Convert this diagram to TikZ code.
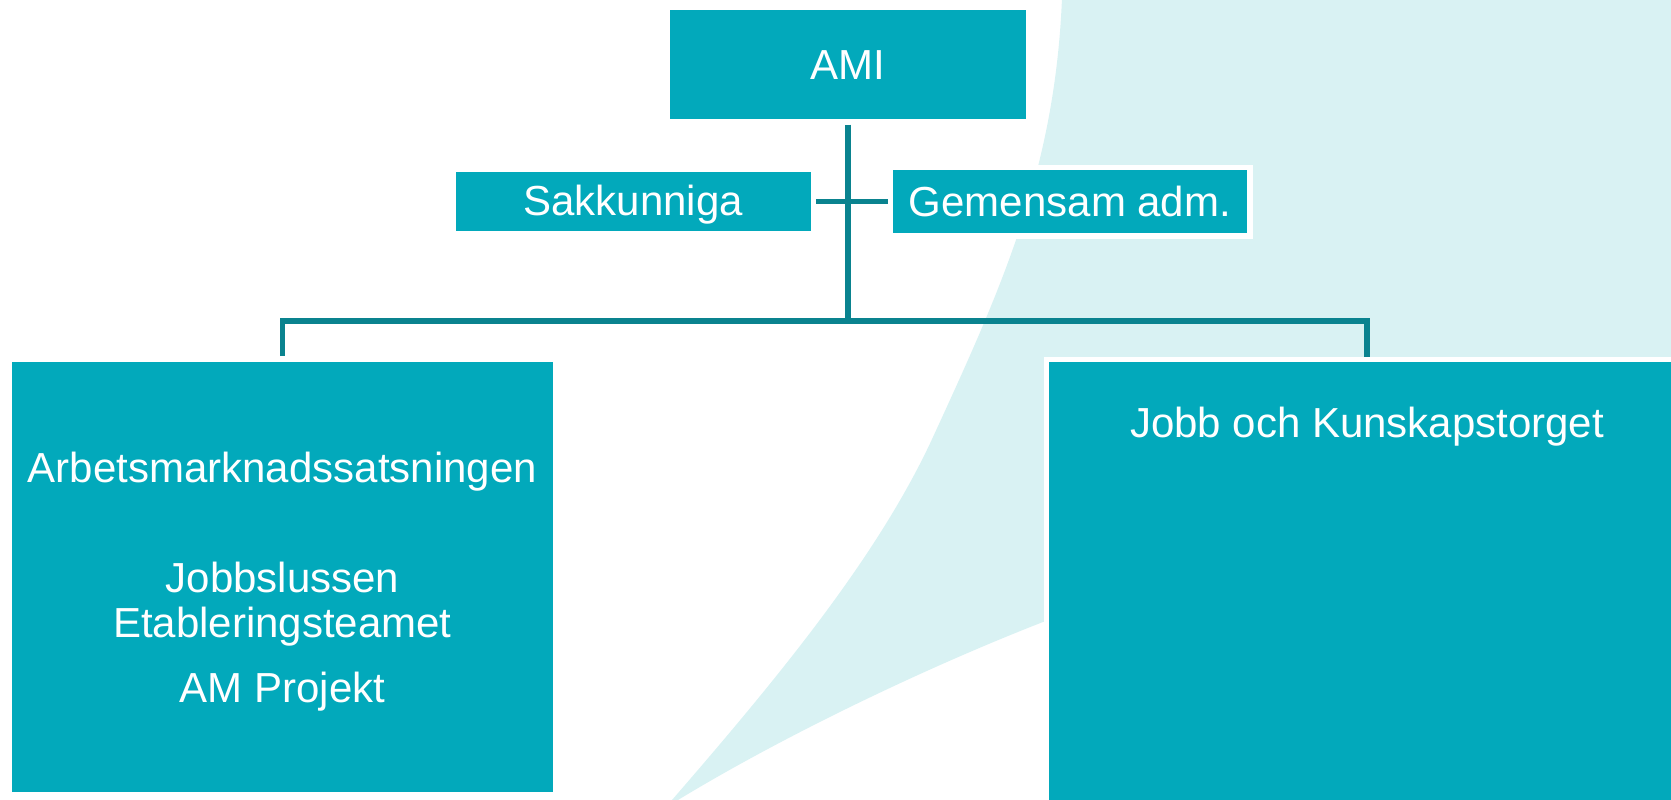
\documentclass[tikz,border=0pt]{standalone}
\usepackage{fontspec}
\setmainfont{Liberation Sans}
\definecolor{boxteal}{RGB}{2,169,187}
\definecolor{lineteal}{RGB}{10,131,143}
\definecolor{pale}{RGB}{217,242,243}
\begin{document}
\begin{tikzpicture}[x=1pt,y=-1pt,
  orgbox/.style={rectangle, fill=boxteal, draw=white, line width=5.5pt, inner sep=0pt},
  conn/.style={draw=lineteal, line width=5.5pt},
  lbl/.style={text=white, font=\fontsize{42}{50}\selectfont, anchor=base, inner sep=0pt}]
\useasboundingbox (0,0) rectangle (1671,800);
% pale background swoosh
\fill[pale] (1062,-2) .. controls (1055,170) and (1002,287) .. (933,437)
  .. controls (878,557) and (776,680) .. (672,800)
  -- (678,800) .. controls (780,738) and (920,670) .. (1043,622)
  -- (1700,400) -- (1700,-2) -- cycle;
% boxes
\node[orgbox, minimum width=361pt, minimum height=114.5pt] (ami) at (847.75,64.5) {};
\node[orgbox, minimum width=360.5pt, minimum height=64.8pt] (sak) at (633.2,201.4) {};
\node[orgbox, minimum width=359.5pt, minimum height=68.5pt] (gem) at (1070,201.5) {};
\node[orgbox, minimum width=546.7pt, minimum height=435.5pt] (arb) at (282.4,576.7) {};
\node[orgbox, minimum width=641.5pt, minimum height=473.5pt] (jobb) at (1367,596) {};
% texts
\node[lbl] (amit) at (847.75,79) {AMI};
\node[lbl] (sakt) at (633.2,215) {Sakkunniga};
\node[lbl] (gemt) at (1070,216) {Gemensam adm.};
\node[lbl] (arbt) at (282.4,482) {Arbetsmarknadssatsningen};
\node[lbl] (arbt2) at (282.4,592) {Jobbslussen};
\node[lbl] (arbt3) at (282.4,637) {Etableringsteamet};
\node[lbl] (arbt4) at (282.4,702) {AM Projekt};
\node[lbl] (jobbt) at (1367,437) {Jobb och Kunskapstorget};
% connectors
\coordinate (hub) at (847.75,320.8);
\draw[conn] (ami.south) -- (hub);
\draw[conn] (arb.north) |- (hub) -| (jobb.north);
\draw[conn] (sak.east) -- (sak.east -| gem.west);
\end{tikzpicture}
\end{document}
